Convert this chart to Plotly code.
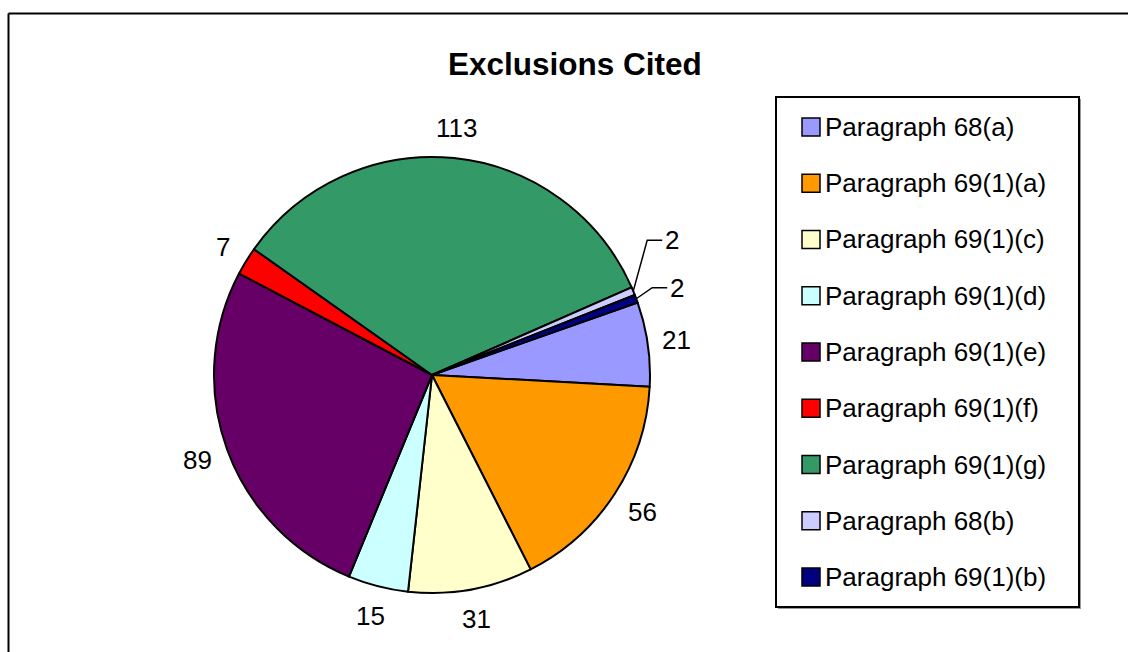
import math
import plotly.graph_objects as go

# Exclusion categories, counts and slice colours
labels = [
    "Paragraph 68(a)", "Paragraph 69(1)(a)", "Paragraph 69(1)(c)",
    "Paragraph 69(1)(d)", "Paragraph 69(1)(e)", "Paragraph 69(1)(f)",
    "Paragraph 69(1)(g)", "Paragraph 68(b)", "Paragraph 69(1)(b)",
]
values = [21, 56, 31, 15, 89, 7, 113, 2, 2]
colors = [
    "#9999FF", "#FF9900", "#FFFFCC", "#CCFFFF", "#660066",
    "#FF0000", "#339966", "#CCCCFF", "#000080",
]
title_text = "Exclusions Cited"

# Page geometry (pixels) and styling
W, H = 1128, 652
CX, CY, R = 432, 375, 218
ROTATION = 70.6
FONT = "Liberation Sans, Arial, sans-serif"
LABEL_SIZE = 26
# leader-line elbows for the thin slices (offset from the slice edge, px)
LEADER = {"Paragraph 68(b)": (14, -51), "Paragraph 69(1)(b)": (16, -11)}


def px(x):
    return x / W


def py(y):
    return 1 - y / H


fig = go.Figure(go.Pie(
    labels=labels, values=values, sort=False, direction="clockwise",
    rotation=ROTATION,
    marker=dict(colors=colors, line=dict(color="black", width=2)),
    textinfo="none", hoverinfo="label+value", showlegend=False,
    domain=dict(x=[px(CX - R), px(CX + R)], y=[py(CY + R), py(CY - R)]),
))

shapes = []
annotations = []

# Value labels around the pie
total = sum(values)
cum = 0
for lab, v in zip(labels, values):
    mid = cum + v / 2
    cum += v
    ang = math.radians(ROTATION + 360 * mid / total)
    ux, uy = math.sin(ang), -math.cos(ang)
    if lab in LEADER:
        ex, ey = CX + R * ux, CY + R * uy
        ox, oy = LEADER[lab]
        bx, by = ex + ox, ey + oy
        fx, fy = bx + 15, by
        shapes.append(dict(
            type="path", xref="paper", yref="paper",
            path=f"M {px(ex)} {py(ey)} L {px(bx)} {py(by)} L {px(fx)} {py(fy)}",
            line=dict(color="black", width=1.5),
        ))
        annotations.append(dict(
            x=px(fx + 1), y=py(fy), xref="paper", yref="paper",
            text=str(v), showarrow=False, xanchor="left", yanchor="middle",
            font=dict(family=FONT, size=LABEL_SIZE, color="black"),
        ))
    else:
        hw = len(str(v)) * 0.556 * LABEL_SIZE / 2
        hh = 16
        d = R + 12 + hw * abs(ux) + hh * abs(uy)
        annotations.append(dict(
            x=px(CX + d * ux), y=py(CY + d * uy), xref="paper", yref="paper",
            text=str(v), showarrow=False, xanchor="center", yanchor="middle",
            font=dict(family=FONT, size=LABEL_SIZE, color="black"),
        ))

# Title
annotations.append(dict(
    x=px(575), y=py(64), xref="paper", yref="paper", text=f"<b>{title_text}</b>",
    showarrow=False, xanchor="center", yanchor="middle",
    font=dict(family=FONT, size=31.5, color="black"),
))

# Legend box with shadow
LX0, LY0, LX1, LY1 = 776, 97, 1079, 607
shapes.append(dict(type="rect", xref="paper", yref="paper",
                   x0=px(LX0 + 2), y0=py(LY1 + 2), x1=px(LX1 + 2), y1=py(LY0 + 2),
                   line=dict(width=0), fillcolor="#9a9a9a"))
shapes.append(dict(type="rect", xref="paper", yref="paper",
                   x0=px(LX0), y0=py(LY1), x1=px(LX1), y1=py(LY0),
                   line=dict(color="black", width=2), fillcolor="white"))

ROW0, ROW_STEP = 127, 56.25
for i, (lab, col) in enumerate(zip(labels, colors)):
    yc = ROW0 + i * ROW_STEP
    shapes.append(dict(type="rect", xref="paper", yref="paper",
                       x0=px(802), x1=px(820), y0=py(yc + 9), y1=py(yc - 9),
                       fillcolor=col, line=dict(color="black", width=1.5)))
    annotations.append(dict(
        x=px(823), y=py(yc), xref="paper", yref="paper", text=lab,
        showarrow=False, xanchor="left", yanchor="middle",
        font=dict(family=FONT, size=LABEL_SIZE, color="black"),
    ))

# Outer chart-area frame (top and left edges visible)
shapes.append(dict(type="line", xref="paper", yref="paper",
                   x0=px(8.5), y0=py(13.5), x1=px(W + 5), y1=py(13.5),
                   line=dict(color="black", width=2)))
shapes.append(dict(type="line", xref="paper", yref="paper",
                   x0=px(8.5), y0=py(13.5), x1=px(8.5), y1=py(H + 5),
                   line=dict(color="black", width=2)))

fig.update_layout(
    width=W, height=H, margin=dict(l=0, r=0, t=0, b=0),
    paper_bgcolor="white", plot_bgcolor="white",
    showlegend=False, shapes=shapes, annotations=annotations,
    font=dict(family=FONT),
)

fig.write_html("out.html")
